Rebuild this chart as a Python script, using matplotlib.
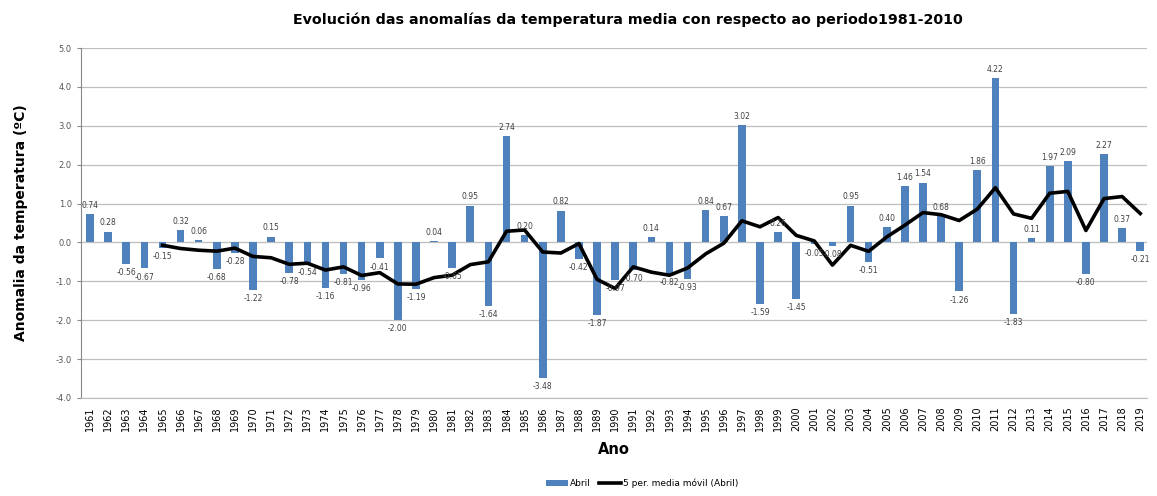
import numpy as np
import pandas as pd
import matplotlib
matplotlib.use('Agg')
import matplotlib.pyplot as plt

# Anomalias de abril (ºC) con respecto a 1981-2010
years = list(range(1961, 2020))
anomalies = [0.74, 0.28, -0.56, -0.67, -0.15, 0.32, 0.06, -0.68, -0.28, -1.22,
             0.15, -0.78, -0.54, -1.16, -0.81, -0.96, -0.41, -2.00, -1.19, 0.04,
             -0.65, 0.95, -1.64, 2.74, 0.20, -3.48, 0.82, -0.42, -1.87, -0.97,
             -0.70, 0.14, -0.82, -0.93, 0.84, 0.67, 3.02, -1.59, 0.26, -1.45,
             -0.05, -0.08, 0.95, -0.51, 0.40, 1.46, 1.54, 0.68, -1.26, 1.86,
             4.22, -1.83, 0.11, 1.97, 2.09, -0.80, 2.27, 0.37, -0.21]
yticks = [5.0, 4.0, 3.0, 2.0, 1.0, 0.0, -1.0, -2.0, -3.0, -4.0]

serie = pd.Series(anomalies, index=years)
media_movil = serie.rolling(5).mean()

fig = plt.figure(figsize=(11.57, 4.96), dpi=100)
ax = fig.add_axes([0.070, 0.1976, 0.921, 0.7056])

bars = ax.bar(years, anomalies, width=0.42, color='#4F81BD', zorder=2, label='Abril')
line, = ax.plot(years, media_movil.values, color='black', lw=2.6, zorder=3,
                label='5 per. media móvil (Abril)')

for x, v in zip(years, anomalies):
    off = 3 if v >= 0 else -3
    va = 'bottom' if v >= 0 else 'top'
    ax.annotate('{:.2f}'.format(v), (x, v), xytext=(0, off), textcoords='offset points',
                ha='center', va=va, fontsize=5.5, color='#404040', zorder=4)

ax.set_xlim(1960.5, 2019.35)
ax.set_ylim(-4, 5)
ax.set_yticks(yticks)
ax.set_yticklabels(['{:.1f}'.format(t) for t in yticks], fontsize=6, color='#555555')
ax.set_xticks(years)
ax.set_xticklabels([str(y) for y in years], rotation=90, fontsize=7)
ax.tick_params(axis='x', length=0, pad=6)
ax.tick_params(axis='y', length=3, color='#888888')
ax.grid(axis='y', color='#BFBFBF', lw=0.9, zorder=0)
ax.axhline(0, color='#D9D9B0', lw=0.8, zorder=1)
for s in ['top', 'right']:
    ax.spines[s].set_visible(False)
ax.spines['left'].set_color('#888888')
ax.spines['bottom'].set_color('#BBBBBB')

ax.set_ylabel('Anomalia da temperatura (ºC)', fontsize=10, fontweight='bold', labelpad=20)
ax.set_xlabel('Ano', fontsize=10.5, fontweight='bold', labelpad=8)
fig.suptitle('Evolución das anomalías da temperatura media con respecto ao periodo1981-2010',
             fontsize=10.3, fontweight='bold', x=0.543, y=0.975)

fig.legend([bars, line], ['Abril', '5 per. media móvil (Abril)'],
           loc='lower center', bbox_to_anchor=(0.555, 0.0), ncol=2, frameon=False,
           fontsize=6.5, handlelength=2.4, columnspacing=1.0, handletextpad=0.2)

plt.savefig('out.png', dpi=100)
plt.clf()
